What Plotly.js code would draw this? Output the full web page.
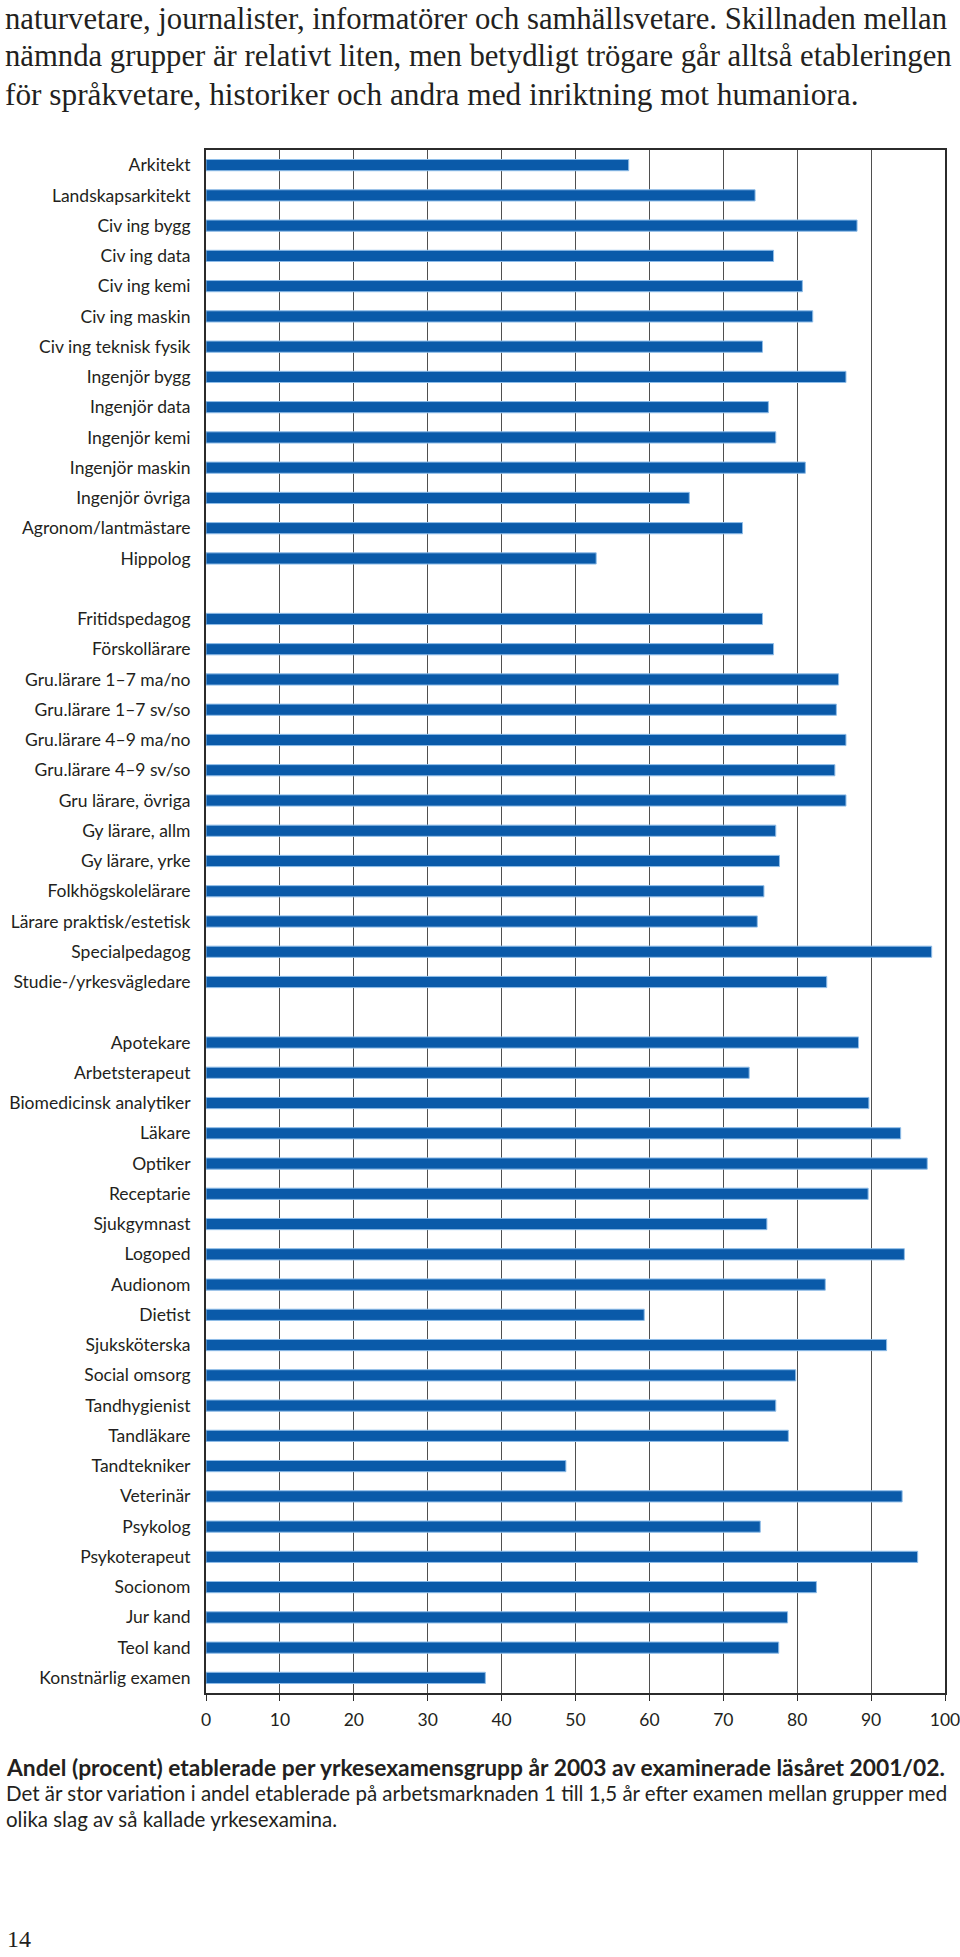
<!DOCTYPE html>
<html>
<head>
<meta charset="utf-8">
<script src="https://cdn.plot.ly/plotly-3.0.1.min.js"></script>
<style>
  html, body { margin: 0; padding: 0; background: #ffffff; }
  #chart { width: 960px; height: 1957px; }
</style>
</head>
<body>
<div id="chart"></div>
<script>
// ---- Data ----
const group1Labels = ['Arkitekt','Landskapsarkitekt','Civ ing bygg','Civ ing data','Civ ing kemi','Civ ing maskin','Civ ing teknisk fysik','Ingenjör bygg','Ingenjör data','Ingenjör kemi','Ingenjör maskin','Ingenjör övriga','Agronom/lantmästare','Hippolog'];
const group1Values = [57.2, 74.3, 88.1, 76.8, 80.7, 82.1, 75.3, 86.6, 76.1, 77.1, 81.1, 65.4, 72.6, 52.8];

const group2Labels = ['Fritidspedagog','Förskollärare','Gru.lärare 1–7 ma/no','Gru.lärare 1–7 sv/so','Gru.lärare 4–9 ma/no','Gru.lärare 4–9 sv/so','Gru lärare, övriga','Gy lärare, allm','Gy lärare, yrke','Folkhögskolelärare','Lärare praktisk/estetisk','Specialpedagog','Studie-/yrkesvägledare'];
const group2Values = [75.3, 76.8, 85.6, 85.3, 86.6, 85.1, 86.6, 77.1, 77.6, 75.5, 74.6, 98.2, 84.0];

const group3Labels = ['Apotekare','Arbetsterapeut','Biomedicinsk analytiker','Läkare','Optiker','Receptarie','Sjukgymnast','Logoped','Audionom','Dietist','Sjuksköterska','Social omsorg','Tandhygienist','Tandläkare','Tandtekniker','Veterinär','Psykolog','Psykoterapeut','Socionom','Jur kand','Teol kand','Konstnärlig examen'];
const group3Values = [88.3, 73.5, 89.7, 94.0, 97.6, 89.6, 75.9, 94.5, 83.8, 59.3, 92.1, 79.8, 77.1, 78.8, 48.7, 94.2, 75.0, 96.3, 82.6, 78.7, 77.5, 37.8];

const xTickValues = [0, 10, 20, 30, 40, 50, 60, 70, 80, 90, 100];

const introLines = [
  'naturvetare, journalister, informatörer och samhällsvetare. Skillnaden mellan',
  'nämnda grupper är relativt liten, men betydligt trögare går alltså etableringen',
  'för språkvetare, historiker och andra med inriktning mot humaniora.'
];
const captionTitle = 'Andel (procent) etablerade per yrkesexamensgrupp år 2003 av examinerade läsåret 2001/02.';
const captionLines = [
  'Det är stor variation i andel etablerade på arbetsmarknaden 1 till 1,5 år efter examen mellan grupper med',
  'olika slag av så kallade yrkesexamina.'
];
const pageNumber = '14';

// ---- Layout geometry ----
const W = 960, H = 1957;
const L = 206, R = 945, T = 150, B = 1693;
const pw = R - L, ph = B - T;
const px = x => (x - L) / pw;
const py = y => (B - y) / ph;

const spacer1 = '\u00a0';
const spacer2 = '\u00a0\u00a0';
const categoryOrder = [...group1Labels, spacer1, ...group2Labels, spacer2, ...group3Labels];

const sansFont = 'Lato, "Open Sans", sans-serif';
const serifFont = '"Liberation Serif", "DejaVu Serif", serif';
const textColor = '#231f20';

const barStyle = {
  type: 'bar',
  orientation: 'h',
  width: 0.37,
  marker: { color: '#0a5aa9', line: { color: '#8fbde8', width: 1 } },
  hoverinfo: 'x+y',
  showlegend: false
};

const data = [
  Object.assign({}, barStyle, { x: group1Values, y: group1Labels }),
  Object.assign({}, barStyle, { x: group2Values, y: group2Labels }),
  Object.assign({}, barStyle, { x: group3Values, y: group3Labels })
];

const introSizes = [30.7, 30.7, 31.3];
const introCenters = [19.5, 56.5, 94];
const annotations = [];
introLines.forEach((t, i) => {
  annotations.push({
    text: t, xref: 'paper', yref: 'paper', x: px(3), y: py(introCenters[i]),
    xanchor: 'left', yanchor: 'middle', showarrow: false,
    font: { family: serifFont, size: introSizes[i], color: textColor }
  });
});
annotations.push({
  text: '<b>' + captionTitle + '</b>', xref: 'paper', yref: 'paper', x: px(4), y: py(1767),
  xanchor: 'left', yanchor: 'middle', showarrow: false,
  font: { family: sansFont, size: 22.8, color: textColor }
});
captionLines.forEach((t, i) => {
  annotations.push({
    text: t, xref: 'paper', yref: 'paper', x: px(4), y: py(1793 + i * 26),
    xanchor: 'left', yanchor: 'middle', showarrow: false,
    font: { family: sansFont, size: 20.5, color: textColor }
  });
});
annotations.push({
  text: pageNumber, xref: 'paper', yref: 'paper', x: px(5), y: py(1939),
  xanchor: 'left', yanchor: 'middle', showarrow: false,
  font: { family: serifFont, size: 24, color: textColor }
});

const layout = {
  width: W, height: H,
  margin: { l: L, r: W - R, t: T, b: H - B, pad: 0 },
  paper_bgcolor: '#ffffff',
  plot_bgcolor: '#ffffff',
  bargap: 0.6,
  xaxis: {
    range: [0, 100],
    tickvals: xTickValues,
    ticktext: xTickValues.map(String),
    showgrid: true, gridcolor: '#4f4f4f', gridwidth: 1,
    zeroline: false,
    showline: true, linecolor: '#2b2b2b', linewidth: 2, mirror: true,
    ticks: 'outside', ticklen: 6, tickcolor: '#2b2b2b', tickwidth: 1,
    ticklabelstandoff: 4,
    ticklabeloverflow: 'allow',
    tickfont: { family: sansFont, size: 17.5, color: textColor },
    fixedrange: true
  },
  yaxis: {
    type: 'category',
    categoryorder: 'array',
    categoryarray: categoryOrder,
    range: [categoryOrder.length - 0.5, -0.5],
    showgrid: false, zeroline: false,
    showline: true, linecolor: '#2b2b2b', linewidth: 2, mirror: true,
    ticks: '',
    ticklabelstandoff: 10,
    tickfont: { family: sansFont, size: 17.5, color: textColor },
    fixedrange: true
  },
  annotations: annotations
};

Plotly.newPlot('chart', data, layout, { displayModeBar: false, staticPlot: true });
</script>
</body>
</html>
